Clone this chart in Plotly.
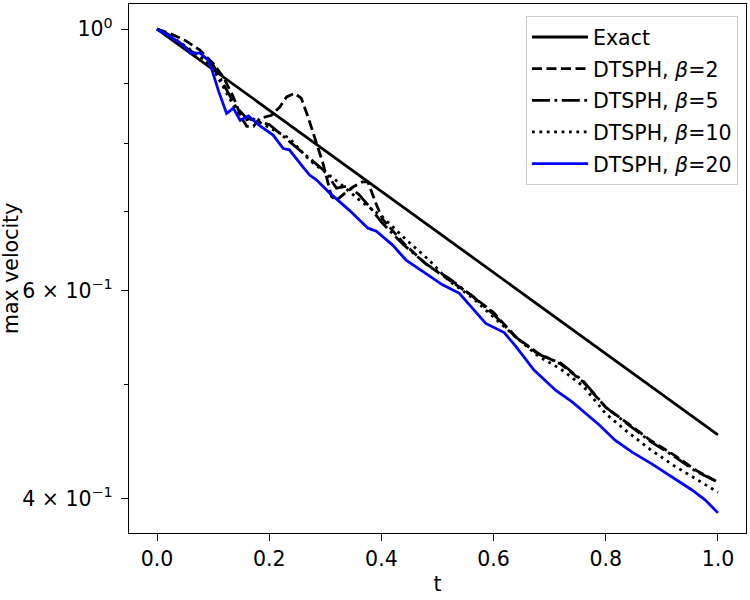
import plotly.graph_objects as go

# ---- data ----
t_exact = [0.0, 1.0]
v_exact = [1.0, 0.453]

t_b2 = [0.0, 0.024, 0.05, 0.076, 0.10, 0.118, 0.136, 0.151, 0.160, 0.172, 0.183, 0.204,
        0.219, 0.231, 0.245, 0.257, 0.269, 0.284, 0.296, 0.311, 0.320, 0.335, 0.350,
        0.366, 0.376, 0.390, 0.402, 0.414, 0.44, 0.48, 0.52, 0.56, 0.60, 0.64, 0.68,
        0.72, 0.76, 0.80, 0.84, 0.88, 0.92, 0.96, 1.0]
v_b2 = [1.0, 0.991, 0.978, 0.960, 0.935, 0.911, 0.876, 0.840, 0.827, 0.827, 0.840, 0.845,
        0.859, 0.876, 0.882, 0.874, 0.843, 0.800, 0.769, 0.721, 0.716, 0.726, 0.735,
        0.742, 0.742, 0.712, 0.690, 0.680, 0.658, 0.632, 0.613, 0.595, 0.575, 0.548, 0.531,
        0.520, 0.502, 0.478, 0.463, 0.448, 0.436, 0.423, 0.413]

t_b5 = [0.0, 0.02, 0.05, 0.08, 0.10, 0.12, 0.14, 0.16, 0.18, 0.20, 0.24, 0.28, 0.30,
        0.32, 0.34, 0.36, 0.38, 0.40, 0.44, 0.48, 0.52, 0.56, 0.60, 0.64, 0.68, 0.72,
        0.76, 0.80, 0.84, 0.88, 0.92, 0.96, 1.0]
v_b5 = [1.0, 0.990, 0.965, 0.945, 0.932, 0.895, 0.860, 0.840, 0.835, 0.830, 0.800, 0.772,
        0.757, 0.733, 0.736, 0.724, 0.706, 0.686, 0.656, 0.632, 0.615, 0.595, 0.573, 0.548,
        0.530, 0.521, 0.503, 0.478, 0.462, 0.447, 0.435, 0.422, 0.413]

t_b10 = [0.0, 0.04, 0.08, 0.10, 0.12, 0.14, 0.15, 0.17, 0.20, 0.236, 0.272, 0.326, 0.361,
         0.402, 0.444, 0.485, 0.52, 0.56, 0.60, 0.64, 0.68, 0.72, 0.76, 0.80, 0.84, 0.88,
         0.92, 0.96, 1.0]
v_b10 = [1.0, 0.975, 0.945, 0.925, 0.890, 0.855, 0.835, 0.840, 0.825, 0.808, 0.774, 0.740,
         0.716, 0.693, 0.663, 0.637, 0.612, 0.593, 0.570, 0.548, 0.528, 0.515, 0.498, 0.472,
         0.455, 0.440, 0.427, 0.416, 0.405]

t_b20 = [0.0, 0.024, 0.047, 0.059, 0.077, 0.091, 0.097, 0.110, 0.124, 0.136, 0.148, 0.163,
         0.183, 0.207, 0.225, 0.236, 0.260, 0.272, 0.284, 0.308, 0.343, 0.376, 0.391, 0.420,
         0.444, 0.479, 0.509, 0.539, 0.574, 0.586, 0.619, 0.640, 0.672, 0.711, 0.740, 0.764,
         0.788, 0.817, 0.847, 0.882, 0.918, 0.953, 0.977, 1.0]
v_b20 = [1.0, 0.985, 0.969, 0.954, 0.954, 0.941, 0.926, 0.885, 0.848, 0.857, 0.837, 0.844,
         0.828, 0.813, 0.792, 0.790, 0.764, 0.752, 0.745, 0.726, 0.702, 0.678, 0.674, 0.656,
         0.637, 0.621, 0.607, 0.597, 0.571, 0.563, 0.553, 0.538, 0.514, 0.494, 0.483, 0.472,
         0.462, 0.448, 0.438, 0.428, 0.417, 0.407, 0.399, 0.389]

x_ticks = [0.0, 0.2, 0.4, 0.6, 0.8, 1.0]
y_major = [0.4, 0.6, 1.0]
y_major_text = ["4 × 10<sup>−1</sup>",
                "6 × 10<sup>−1</sup>",
                "10<sup>0</sup>"]
y_minor = [0.5, 0.7, 0.8, 0.9]

names = ["Exact", "DTSPH, <i>β</i>=2", "DTSPH, <i>β</i>=5",
         "DTSPH, <i>β</i>=10", "DTSPH, <i>β</i>=20"]

FONT = "DejaVu Sans"
FS = 20.5
LW = 2.8
series = [
    (t_exact, v_exact, "black", "solid"),
    (t_b2, v_b2, "black", "10px,4.5px"),
    (t_b5, v_b5, "black", "18px,4.5px,2.8px,4.5px"),
    (t_b10, v_b10, "black", "2.8px,4.6px"),
    (t_b20, v_b20, "blue", "solid"),
]

fig = go.Figure()
for i, (tx, vy, col, dash) in enumerate(series):
    fig.add_trace(go.Scatter(x=tx, y=vy, mode="lines", name=names[i],
                             legendgroup=f"g{i}",
                             line=dict(color=col, width=LW, dash=dash)))

fig.update_layout(
    width=750, height=600,
    margin=dict(l=129, r=4, t=4, b=67),
    paper_bgcolor="white", plot_bgcolor="white",
    font=dict(family=FONT, size=FS, color="black"),
    showlegend=True,
    legend=dict(x=0.987, y=0.977, xanchor="right", yanchor="top",
                bgcolor="white", bordercolor="#cccccc", borderwidth=1,
                font=dict(family=FONT, size=FS), tracegroupgap=2,
                itemwidth=56, traceorder="grouped"),
    annotations=[dict(text="max velocity", xref="paper", yref="paper",
                      x=-0.192, y=0.5, xanchor="center", yanchor="middle",
                      textangle=-90, showarrow=False,
                      font=dict(family=FONT, size=FS, color="black"))],
)
fig.update_xaxes(range=[-0.05, 1.05], tickvals=x_ticks, tickformat=".1f",
                 ticks="outside", ticklen=7, tickwidth=1.3, tickcolor="black",
                 showline=True, linecolor="black", linewidth=1.3, mirror=True,
                 showgrid=False, zeroline=False,
                 title=dict(text="t", font=dict(family=FONT, size=FS), standoff=6))
fig.update_yaxes(type="log", range=[-0.4271, 0.0212],
                 tickmode="array", tickvals=y_major, ticktext=y_major_text,
                 ticks="outside", ticklen=7, tickwidth=1.3, tickcolor="black",
                 ticklabelstandoff=4,
                 minor=dict(tickvals=y_minor, ticks="outside", ticklen=4,
                            tickwidth=1.1, tickcolor="black", showgrid=False),
                 showline=True, linecolor="black", linewidth=1.3, mirror=True,
                 showgrid=False, zeroline=False)

fig.write_html("out.html")
